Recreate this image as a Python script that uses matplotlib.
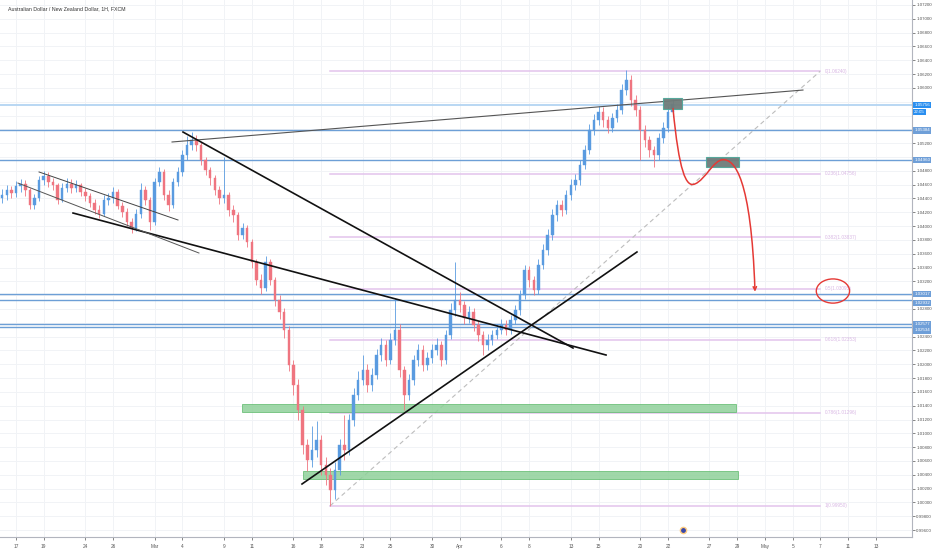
import matplotlib
matplotlib.use("Agg")
import matplotlib.pyplot as plt
import matplotlib.transforms as mtransforms
from matplotlib.patches import Rectangle, Ellipse, FancyArrowPatch
from matplotlib.path import Path

plt.rcParams["font.family"] = ["Liberation Sans", "DejaVu Sans"]

# ---------------- data ----------------
title = "Australian Dollar / New Zealand Dollar, 1H, FXCM"

# 8-hour bars (3 per trading day), first bar starts one trading day before Feb 17
bars_per_day = 3
first_day = -1.0
first_open = 1.0440
closes = [
    1.0445, 1.0452, 1.0448, 1.0458, 1.0461, 1.0452, 1.0430, 1.0440, 1.0467, 1.0472,
    1.0464, 1.0459, 1.0438, 1.0455, 1.0461, 1.0455, 1.0459, 1.0449, 1.0443, 1.0433,
    1.0423, 1.0417, 1.0438, 1.0440, 1.0449, 1.0429, 1.0420, 1.0406, 1.0397, 1.0417,
    1.0452, 1.0438, 1.0406, 1.0464, 1.0478, 1.0445, 1.0430, 1.0464, 1.0478, 1.0503,
    1.0517, 1.0524, 1.0517, 1.0495, 1.0481, 1.0469, 1.0452, 1.0440, 1.0445, 1.0423,
    1.0416, 1.0387, 1.0397, 1.0377, 1.0348, 1.0322, 1.0310, 1.0348, 1.0322, 1.0293,
    1.0276, 1.0250, 1.0199, 1.0170, 1.0134, 1.0083, 1.0061, 1.0076, 1.0090, 1.0054,
    1.0040, 1.0018, 1.0047, 1.0083, 1.0076, 1.0119, 1.0155, 1.0177, 1.0192, 1.0170,
    1.0184, 1.0213, 1.0228, 1.0206, 1.0235, 1.0250, 1.0192, 1.0155, 1.0177, 1.0206,
    1.0221, 1.0199, 1.0209, 1.0221, 1.0228, 1.0206, 1.0242, 1.0278, 1.0293, 1.0286,
    1.0267, 1.0276, 1.0257, 1.0242, 1.0228, 1.0235, 1.0242, 1.0250, 1.0257, 1.0250,
    1.0264, 1.0278, 1.0300, 1.0336, 1.0322, 1.0307, 1.0344, 1.0365, 1.0387, 1.0416,
    1.0430, 1.0423, 1.0445, 1.0459, 1.0467, 1.0488, 1.0510, 1.0539, 1.0553, 1.0565,
    1.0553, 1.0542, 1.0556, 1.0568, 1.0597, 1.0611, 1.0582, 1.0568, 1.0539, 1.0524,
    1.0510, 1.0503, 1.0527, 1.0542, 1.0565, 1.0576,
]
highs = [
    1.0453, 1.0460, 1.0458, 1.0465, 1.0468, 1.0466, 1.0455, 1.0447, 1.0473, 1.0480,
    1.0478, 1.0470, 1.0463, 1.0462, 1.0470, 1.0468, 1.0466, 1.0463, 1.0455, 1.0448,
    1.0439, 1.0430, 1.0445, 1.0448, 1.0456, 1.0453, 1.0435, 1.0426, 1.0412, 1.0424,
    1.0462, 1.0458, 1.0442, 1.0470, 1.0486, 1.0482, 1.0452, 1.0470, 1.0486, 1.0510,
    1.0530, 1.0536, 1.0532, 1.0522, 1.0500, 1.0486, 1.0474, 1.0458, 1.0500, 1.0450,
    1.0430, 1.0421, 1.0405, 1.0402, 1.0382, 1.0352, 1.0330, 1.0356, 1.0352, 1.0327,
    1.0300, 1.0282, 1.0256, 1.0206, 1.0178, 1.0140, 1.0092, 1.0110, 1.0118, 1.0097,
    1.0066, 1.0050, 1.0058, 1.0092, 1.0126, 1.0128, 1.0165, 1.0190, 1.0213, 1.0200,
    1.0195, 1.0222, 1.0238, 1.0235, 1.0245, 1.0296, 1.0258, 1.0198, 1.0186, 1.0214,
    1.0230, 1.0228, 1.0218, 1.0230, 1.0238, 1.0234, 1.0250, 1.0288, 1.0348, 1.0305,
    1.0292, 1.0285, 1.0282, 1.0263, 1.0248, 1.0244, 1.0250, 1.0258, 1.0266, 1.0264,
    1.0272, 1.0286, 1.0308, 1.0344, 1.0342, 1.0328, 1.0352, 1.0374, 1.0396, 1.0424,
    1.0438, 1.0438, 1.0452, 1.0468, 1.0476, 1.0496, 1.0518, 1.0548, 1.0562, 1.0574,
    1.0572, 1.0560, 1.0564, 1.0576, 1.0606, 1.0626, 1.0618, 1.0590, 1.0574, 1.0546,
    1.0530, 1.0516, 1.0535, 1.0550, 1.0574, 1.0584,
]
lows = [
    1.0433, 1.0438, 1.0441, 1.0442, 1.0450, 1.0444, 1.0424, 1.0425, 1.0436, 1.0460,
    1.0457, 1.0452, 1.0432, 1.0435, 1.0450, 1.0448, 1.0449, 1.0443, 1.0436, 1.0427,
    1.0417, 1.0411, 1.0414, 1.0431, 1.0434, 1.0424, 1.0413, 1.0400, 1.0390, 1.0393,
    1.0412, 1.0430, 1.0394, 1.0402, 1.0458, 1.0438, 1.0422, 1.0426, 1.0458, 1.0472,
    1.0496, 1.0510, 1.0508, 1.0488, 1.0474, 1.0460, 1.0445, 1.0432, 1.0434, 1.0415,
    1.0406, 1.0380, 1.0381, 1.0370, 1.0340, 1.0314, 1.0302, 1.0306, 1.0315, 1.0285,
    1.0265, 1.0238, 1.0190, 1.0155, 1.0120, 1.0070, 1.0045, 1.0052, 1.0066, 1.0040,
    1.0025, 0.9995, 1.0005, 1.0040, 1.0062, 1.0068, 1.0110, 1.0148, 1.0170, 1.0160,
    1.0162, 1.0178, 1.0205, 1.0198, 1.0200, 1.0228, 1.0182, 1.0134, 1.0148, 1.0170,
    1.0198, 1.0190, 1.0192, 1.0202, 1.0214, 1.0198, 1.0200, 1.0236, 1.0270, 1.0276,
    1.0258, 1.0260, 1.0248, 1.0234, 1.0213, 1.0220, 1.0228, 1.0236, 1.0244, 1.0242,
    1.0244, 1.0258, 1.0272, 1.0295, 1.0312, 1.0300, 1.0302, 1.0338, 1.0358, 1.0380,
    1.0408, 1.0415, 1.0418, 1.0438, 1.0452, 1.0460, 1.0482, 1.0504, 1.0532, 1.0546,
    1.0544, 1.0534, 1.0536, 1.0550, 1.0562, 1.0590, 1.0574, 1.0560, 1.0495, 1.0515,
    1.0500, 1.0485, 1.0496, 1.0520, 1.0536, 1.0558,
]

# date axis (trading-day index, Feb 17 = 0, weekends skipped)
date_tick_days = [0, 2, 5, 7, 10, 12, 15, 17, 20, 22, 25, 27, 30, 32, 35, 37, 40, 42,
                  45, 47, 50, 52, 54, 56, 58, 60, 62]
date_tick_labels = ["17", "19", "24", "26", "Mar", "4", "9", "11", "16", "18", "23", "25",
                    "30", "Apr", "6", "8", "13", "15", "20", "22", "27", "29", "May", "5",
                    "7", "11", "13"]

# price axis
price_ticks = [0.996, 0.998, 1.000, 1.002, 1.004, 1.006, 1.008, 1.010, 1.012, 1.014,
               1.016, 1.018, 1.020, 1.022, 1.024, 1.028, 1.032, 1.034, 1.036, 1.038,
               1.040, 1.042, 1.044, 1.046, 1.048, 1.052, 1.060, 1.062, 1.064, 1.066,
               1.068, 1.070, 1.072]
grid_prices = [0.996 + 0.002 * k for k in range(39)]

# horizontal levels
current_price = 1.05756
level_prices = [1.05384, 1.04960, 1.03017, 1.02932, 1.02577, 1.02534]

# fibonacci
fib_top = 1.06240
fib_bottom = 0.99950
fib_ratios = [0.0, 0.236, 0.382, 0.5, 0.618, 0.786, 1.0]
fib_start_day = 22.64
fib_end_day = 57.97

# drawings (day, price)
trend_upper = [(11.25, 1.05217), (56.74, 1.05969)]
trend_desc_1 = [(12.04, 1.05361), (40.16, 1.02235)]
trend_desc_2 = [(4.11, 1.04189), (42.54, 1.02134)]
trend_rise = [(20.62, 1.00267), (44.77, 1.03625)]
channel_top = [(1.66, 1.04783), (11.68, 1.04088)]
channel_low = [(0.14, 1.04623), (13.19, 1.03610)]

green_zones = [(16.29, 51.91, 1.0131, 1.0142), (20.69, 52.05, 1.0034, 1.0045)]
gray_boxes = [(46.65, 48.02, 1.05694, 1.05854), (49.75, 52.13, 1.04855, 1.05000)]

# projected path (bezier)
proj_path = [(47.37, 1.0570), (47.8, 1.0480), (48.3, 1.0455), (48.95, 1.0461),
             (49.7, 1.0467), (50.3, 1.0496), (50.97, 1.0496),
             (51.8, 1.0497), (53.0, 1.0470), (53.28, 1.0305)]
target_ellipse = (58.9, 1.0306, 2.4, 0.0035)

# ---------------- figure ----------------
W, H = 932, 550
fig = plt.figure(figsize=(W / 100, H / 100), dpi=100)
ax = fig.add_axes([0, 13 / H, 912 / W, 537 / H])
ax.set_xlim(-1.154, 64.6)
ax.set_ylim(0.99500, 1.07272)

# grid
for gp in grid_prices:
    ax.axhline(gp, color="#f1f3f6", lw=0.7, zorder=0)
for d in date_tick_days:
    ax.axvline(d, color="#f1f3f6", lw=0.7, zorder=0)

# horizontal levels
ax.axhline(current_price, color="#b3d4f2", lw=1.3, zorder=1)
for lp in level_prices:
    ax.axhline(lp, color="#6d9fd6", lw=1.0, zorder=1)

# fib levels
fib_col = "#e3c4ec"
for r in fib_ratios:
    p = fib_top - r * (fib_top - fib_bottom)
    ax.plot([fib_start_day, fib_end_day], [p, p], color=fib_col, lw=1.1, zorder=1)
    lab = ("%g" % r) + "(%.5f)" % p
    ax.text(fib_end_day + 0.35, p, lab, fontsize=3.4, color="#d9b8e4",
            ha="left", va="center", zorder=2)
ax.plot([fib_start_day, fib_end_day], [fib_bottom, fib_top], color="#bdbdbd",
        lw=0.8, ls=(0, (4, 3)), zorder=1)

# green zones
for x0, x1, p0, p1 in green_zones:
    ax.add_patch(Rectangle((x0, p0), x1 - x0, p1 - p0, facecolor="#8fd19a",
                           edgecolor="#5cb96b", lw=0.6, alpha=0.85, zorder=2))

# candles
opens = [first_open] + closes[:-1]
up_col, dn_col = "#5a9be0", "#ef7580"
for i, (o, h, l, c) in enumerate(zip(opens, highs, lows, closes)):
    x = first_day + i / bars_per_day
    col = up_col if c >= o else dn_col
    ax.vlines(x, l, h, color=col, lw=0.6, zorder=3)
    lo, hi = min(o, c), max(o, c)
    if hi - lo < 0.00008:
        hi = lo + 0.00008
    ax.add_patch(Rectangle((x - 0.09, lo), 0.18, hi - lo, facecolor=col,
                           edgecolor=col, lw=0.3, zorder=3))

# trend lines
def seg(pts, **kw):
    ax.plot([pts[0][0], pts[1][0]], [pts[0][1], pts[1][1]], zorder=4, **kw)

seg(trend_upper, color="#555555", lw=0.8)
seg(trend_desc_1, color="#111111", lw=1.2)
seg(trend_desc_2, color="#111111", lw=1.2)
seg(trend_rise, color="#111111", lw=1.2)
seg(channel_top, color="#444444", lw=0.7)
seg(channel_low, color="#555555", lw=0.7)

# gray boxes
for x0, x1, p0, p1 in gray_boxes:
    ax.add_patch(Rectangle((x0, p0), x1 - x0, p1 - p0, facecolor="#6f7b79",
                           edgecolor="#52a89b", lw=0.8, alpha=0.95, zorder=5))

# projected red path
codes = [Path.MOVETO] + [Path.CURVE4] * 9
arrow = FancyArrowPatch(path=Path(proj_path, codes), arrowstyle="->",
                        mutation_scale=6, color="#e53935", lw=1.1, zorder=6)
ax.add_patch(arrow)
ex, ey, ew, eh = target_ellipse
ax.add_patch(Ellipse((ex, ey), ew, eh, fill=False, edgecolor="#e53935", lw=1.0, zorder=6))

# small event icon
ax.plot([48.09], [0.99601], marker="o", ms=4.5, mfc="#3949ab", mec="#ffcc80",
        mew=1.0, zorder=6)

# axes styling
for s in ["top", "left"]:
    ax.spines[s].set_visible(False)
ax.spines["right"].set_color("#b2b5be")
ax.spines["bottom"].set_color("#b2b5be")
ax.spines["right"].set_linewidth(0.8)
ax.spines["bottom"].set_linewidth(0.8)

ax.yaxis.tick_right()
ax.set_yticks(price_ticks)
ax.set_yticklabels(["%.5f" % t for t in price_ticks])
ax.tick_params(axis="y", which="both", right=True, left=False, labelright=True,
               labelleft=False, length=2, width=0.5, pad=1, labelsize=3.2,
               colors="#555555")
ax.set_xticks(date_tick_days)
ax.set_xticklabels(date_tick_labels)
ax.tick_params(axis="x", length=2.5, width=0.5, pad=2.5, labelsize=3.4, colors="#555555")

# highlighted price labels
trans = mtransforms.blended_transform_factory(ax.transAxes, ax.transData)
def price_tag(p, txt, fc):
    ax.text(1.0025, p, txt, transform=trans, fontsize=3.2, color="white",
            ha="left", va="center", zorder=10, clip_on=False,
            bbox=dict(boxstyle="square,pad=0.25", fc=fc, ec="none"))

price_tag(current_price, "%.5f" % current_price, "#2a8ff0")
price_tag(current_price - 0.00110, "22:05", "#2a8ff0")
label_offsets = [0.0, 0.0, 0.00005, -0.00040, 0.00010, -0.00045]
for lp, off in zip(level_prices, label_offsets):
    price_tag(lp + off, "%.5f" % lp, "#6f9fd8")

# title
ax.text(0.0085, 0.988, title, transform=ax.transAxes, fontsize=3.8, color="#333333",
        ha="left", va="top", zorder=10)

fig.savefig("out.png", dpi=100)
